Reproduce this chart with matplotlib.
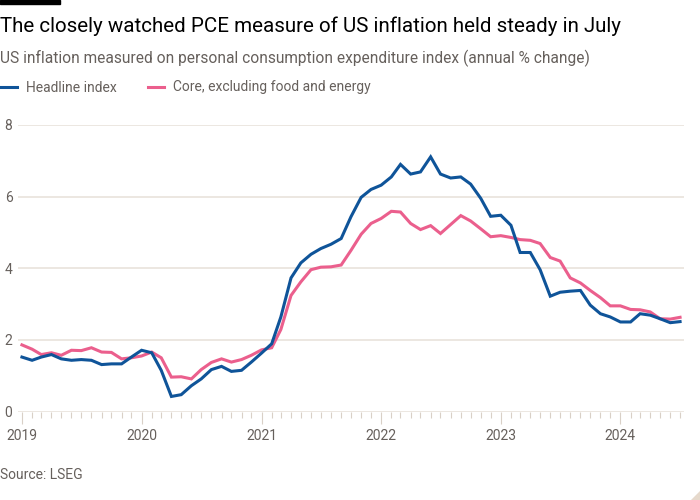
import matplotlib
matplotlib.use("Agg")
import matplotlib.pyplot as plt
import matplotlib.dates as mdates
from matplotlib.patches import Polygon, Rectangle
import pandas as pd

plt.rcParams['font.family'] = ['Roboto', 'DejaVu Sans']

# monthly, Jan 2019 - Jul 2024
months = pd.date_range('2019-01-01', periods=67, freq='MS')

headline = [
    1.52, 1.43, 1.52, 1.59, 1.47, 1.43, 1.45, 1.43, 1.31, 1.33, 1.33, 1.52,
    1.71, 1.64, 1.15, 0.42, 0.47, 0.72, 0.91, 1.17, 1.26, 1.12, 1.15, 1.38,
    1.63, 1.89, 2.64, 3.73, 4.15, 4.39, 4.55, 4.67, 4.83, 5.44, 5.98, 6.20,
    6.32, 6.55, 6.90, 6.63, 6.69, 7.11, 6.63, 6.52, 6.55, 6.35, 5.95, 5.45,
    5.48, 5.20, 4.44, 4.44, 3.96, 3.22, 3.33, 3.36, 3.38, 2.97, 2.73, 2.64,
    2.50, 2.50, 2.73, 2.69, 2.59, 2.48, 2.51,
]
core = [
    1.86, 1.74, 1.59, 1.64, 1.57, 1.71, 1.70, 1.78, 1.66, 1.65, 1.47, 1.50,
    1.55, 1.66, 1.50, 0.96, 0.97, 0.91, 1.17, 1.37, 1.47, 1.38, 1.45, 1.57,
    1.72, 1.78, 2.29, 3.24, 3.62, 3.96, 4.03, 4.04, 4.09, 4.50, 4.95, 5.25,
    5.39, 5.59, 5.57, 5.25, 5.08, 5.19, 4.97, 5.22, 5.47, 5.32, 5.10, 4.88,
    4.91, 4.86, 4.80, 4.78, 4.69, 4.30, 4.20, 3.73, 3.59, 3.38, 3.18, 2.95,
    2.95, 2.85, 2.84, 2.78, 2.59, 2.58, 2.63,
]
y_ticks = [0, 2, 4, 6, 8]

title = "The closely watched PCE measure of US inflation held steady in July"
subtitle = "US inflation measured on personal consumption expenditure index (annual % change)"
source = "Source: LSEG"

BLUE = '#0F5499'
PINK = '#EB5F8D'
GRID = '#E9E3DC'
TICK = '#D9D0C7'
GREY = '#66605C'

fig = plt.figure(figsize=(7, 5), dpi=100, facecolor='white')
ax = fig.add_axes([18 / 700, 1 - 411.5 / 500, 666 / 700, 286.5 / 500])
ax.set_facecolor('white')

ax.plot(months, headline, color=BLUE, lw=2.2, label='Headline index',
        solid_joinstyle='miter', zorder=3)
ax.plot(months, core, color=PINK, lw=2.2, label='Core, excluding food and energy',
        solid_joinstyle='miter', zorder=2)

ax.set_xlim(months[0] - pd.Timedelta(days=12), months[-1] + pd.Timedelta(days=12))
ax.set_ylim(0, 8)
ax.set_yticks(y_ticks)
ax.yaxis.grid(True, color=GRID, lw=1.2)
ax.set_axisbelow(True)
for s in ax.spines.values():
    s.set_visible(False)

ax.tick_params(axis='y', length=0, pad=4, labelsize=10, labelcolor=GREY)
ax.xaxis.set_major_locator(mdates.YearLocator())
ax.xaxis.set_major_formatter(mdates.DateFormatter('%Y'))
ax.xaxis.set_minor_locator(mdates.MonthLocator())
ax.tick_params(axis='x', which='major', length=8.5, width=0.8, color=TICK,
               pad=4, labelsize=10, labelcolor=GREY)
ax.tick_params(axis='x', which='minor', length=4.5, width=0.8, color=TICK)

ax.legend(loc='center left', bbox_to_anchor=(0, 1 - 87.5 / 500),
          bbox_transform=fig.transFigure, ncol=2, frameon=False,
          fontsize=10, labelcolor=GREY, handlelength=1.2, handletextpad=0.65,
          columnspacing=2.25, borderpad=0, borderaxespad=0)

fig.text(0, 1 - 31.5 / 500, title, fontsize=14.8, color='#000000', va='baseline')
fig.text(0, 1 - 63.3 / 500, subtitle, fontsize=11.2, color=GREY, va='baseline')
fig.text(0, 1 - 479 / 500, source, fontsize=10, color=GREY, va='baseline')

# FT bar and corner fold
fig.patches.append(Rectangle((0, 1 - 4 / 500), 60 / 700, 4 / 500,
                             transform=fig.transFigure, color='black'))
fig.patches.append(Polygon([(1 - 9 / 700, 0), (1, 0), (1, 9 / 500)], closed=True,
                           transform=fig.transFigure, color='#E6D9CC'))

fig.savefig('out.png', dpi=100, facecolor='white')
